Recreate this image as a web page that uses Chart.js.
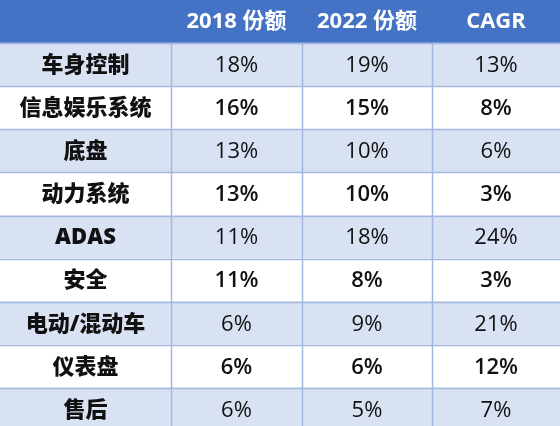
<!DOCTYPE html>
<html>
<head>
<meta charset="utf-8">
<script src="https://cdn.jsdelivr.net/npm/chart.js@4"></script>
<style>
  html, body { margin: 0; padding: 0; background: #fff; overflow: hidden; }
</style>
</head>
<body>
<canvas id="shareTable" width="560" height="431"></canvas>
<script>
// table data
const headers = ['', '2018 份额', '2022 份额', 'CAGR'];
const categories = ['车身控制', '信息娱乐系统', '底盘', '动力系统', 'ADAS', '安全', '电动/混动车', '仪表盘', '售后'];
const share2018 = [18, 16, 13, 13, 11, 11, 6, 6, 6];
const share2022 = [19, 15, 10, 10, 18, 8, 9, 6, 5];
const cagr = [13, 8, 6, 3, 24, 3, 21, 12, 7];

// layout (x units on the linear axis)
const colEdges = [0, 171, 302, 432, 560];
const headerBlue = '#4472C4';
const stripeBlue = '#D9E2F3';
const lineColor = '#A3B8DF';
const fontFamily = "'Open Sans', 'Noto Sans CJK SC', sans-serif";

const rowLabels = ['header'].concat(categories);
const rowColors = rowLabels.map(function (r, i) {
  if (i === 0) return headerBlue;
  return (i % 2 === 1) ? stripeBlue : '#ffffff';
});

const tablePlugin = {
  id: 'tableCells',
  afterDatasetsDraw: function (chart) {
    const ctx = chart.ctx;
    const x = chart.scales.x;
    const y = chart.scales.y;
    const rowH = Math.abs(y.getPixelForValue(1) - y.getPixelForValue(0));
    const top = y.getPixelForValue(0) - rowH / 2;
    const bottom = y.getPixelForValue(rowLabels.length - 1) + rowH / 2;

    ctx.save();
    // grid lines
    ctx.strokeStyle = lineColor;
    ctx.lineWidth = 1.5;
    for (let i = 1; i < rowLabels.length; i++) {
      const yy = Math.round(y.getPixelForValue(i) - rowH / 2) + 0.5;
      ctx.beginPath();
      ctx.moveTo(x.getPixelForValue(colEdges[0]), yy);
      ctx.lineTo(x.getPixelForValue(colEdges[colEdges.length - 1]), yy);
      ctx.stroke();
    }
    for (let j = 1; j < colEdges.length - 1; j++) {
      const xx = Math.round(x.getPixelForValue(colEdges[j])) + 0.5;
      ctx.beginPath();
      ctx.moveTo(xx, top + rowH);
      ctx.lineTo(xx, bottom);
      ctx.stroke();
    }

    // texts
    ctx.textAlign = 'center';
    ctx.textBaseline = 'middle';
    const colCenter = function (j) {
      return x.getPixelForValue((colEdges[j] + colEdges[j + 1]) / 2);
    };
    ctx.fillStyle = '#ffffff';
    ctx.font = 'bold 22px ' + fontFamily;
    headers.forEach(function (h, j) {
      if (h) ctx.fillText(h, colCenter(j), y.getPixelForValue(0));
    });

    const columns = [share2018, share2022, cagr];
    categories.forEach(function (name, i) {
      const cy = y.getPixelForValue(i + 1) + 1;
      ctx.fillStyle = '#111111';
      ctx.font = '900 22px ' + fontFamily;
      ctx.fillText(name, colCenter(0), cy);
      const bold = (i % 2 === 1);
      ctx.font = (bold ? '600 ' : '') + '22px ' + fontFamily;
      columns.forEach(function (col, j) {
        ctx.fillText(col[i] + '%', colCenter(j + 1), cy);
      });
    });
    ctx.restore();
  }
};

new Chart(document.getElementById('shareTable'), {
  type: 'bar',
  data: {
    labels: rowLabels,
    datasets: [{
      data: rowLabels.map(function () { return [colEdges[0], colEdges[colEdges.length - 1]]; }),
      backgroundColor: rowColors,
      borderWidth: 0,
      barPercentage: 1,
      categoryPercentage: 1
    }]
  },
  options: {
    indexAxis: 'y',
    responsive: false,
    animation: false,
    layout: { padding: 0 },
    plugins: {
      legend: { display: false },
      tooltip: { enabled: false }
    },
    scales: {
      x: { type: 'linear', min: colEdges[0], max: colEdges[colEdges.length - 1], display: false },
      y: { type: 'category', display: false }
    }
  },
  plugins: [tablePlugin]
});
</script>
</body>
</html>
